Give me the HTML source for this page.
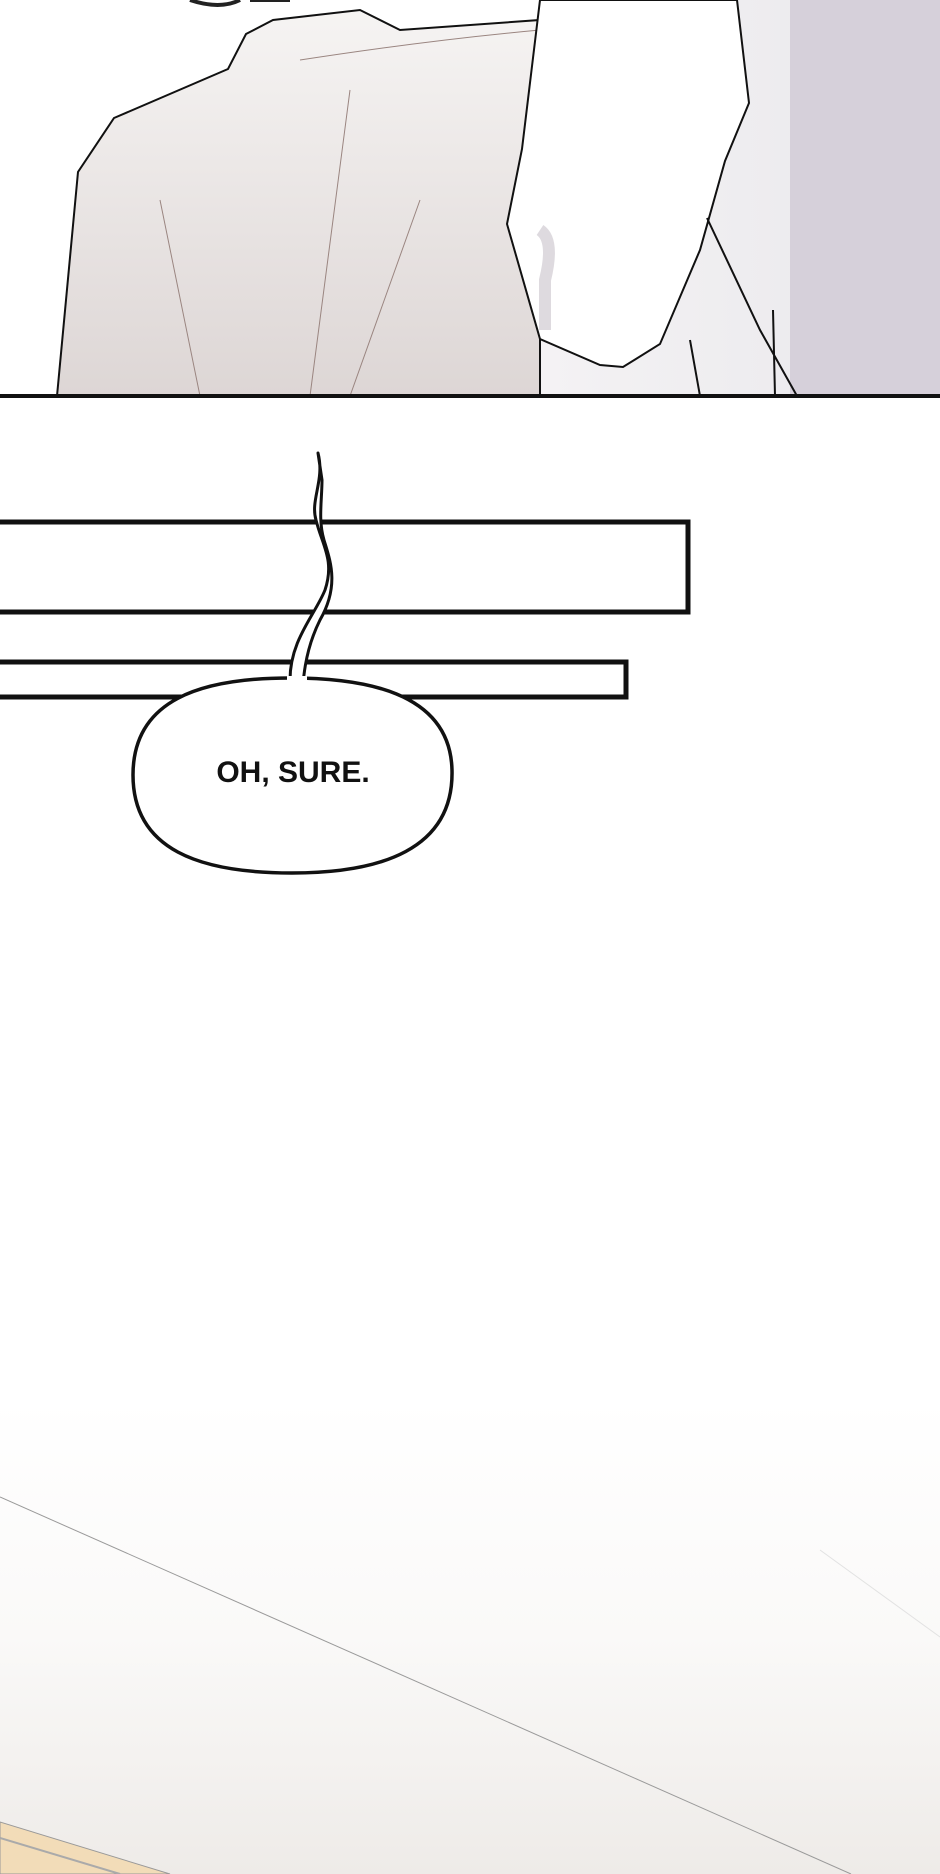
<!DOCTYPE html>
<html><head><style>
html,body{margin:0;padding:0;background:#fff;}
body{width:940px;height:1874px;position:relative;overflow:hidden;}
svg{position:absolute;left:0;top:0;}
</style></head><body>
<svg width="940" height="1874" viewBox="0 0 940 1874" xmlns="http://www.w3.org/2000/svg">
<defs>
<linearGradient id="bg" x1="0" y1="0" x2="1" y2="0">
<stop offset="0" stop-color="#f4f2f4"/><stop offset="0.7" stop-color="#ecebee"/><stop offset="1" stop-color="#d3cdd6"/>
</linearGradient>
<linearGradient id="shirt" x1="0" y1="0" x2="0" y2="1">
<stop offset="0" stop-color="#f6f4f3"/><stop offset="1" stop-color="#ddd6d5"/>
</linearGradient>
<linearGradient id="floor" x1="0" y1="0" x2="0" y2="1">
<stop offset="0" stop-color="#ffffff"/><stop offset="0.5" stop-color="#faf9f8"/><stop offset="1" stop-color="#eeebe8"/>
</linearGradient>
</defs>
<rect x="0" y="0" width="940" height="396" fill="#fff"/>
<rect x="540" y="0" width="400" height="396" fill="url(#bg)"/>
<rect x="790" y="0" width="150" height="396" fill="#d6d0da"/>
<path d="M57,396 L78,172 L114,118 L228,69 L246,34 L273,20 L360,10 L400,30 L540,20 L540,396 Z" fill="url(#shirt)" stroke="#111" stroke-width="2"/>
<path d="M160,200 L200,396 M350,90 L310,396 M420,200 L350,396" stroke="#9a8580" stroke-width="1" fill="none"/>
<path d="M300,60 Q430,40 540,30" stroke="#9a8580" stroke-width="1" fill="none"/>
<path d="M190,0 Q220,10 240,0 M250,0 L290,0" stroke="#222" stroke-width="4" fill="none"/>
<path d="M540,0 L522,149 L507,224 L540,339 L600,365 L623,367 L660,344 L700,250 L725,161 L749,103 L737,0 Z" fill="#ffffff" stroke="#111" stroke-width="2"/>
<path d="M540,230 Q555,240 545,280 L545,330" stroke="#bdb6c0" stroke-width="12" fill="none" opacity="0.5"/>
<path d="M707,218 L760,330 L797,396 M773,310 L775,396 M690,340 L700,396" stroke="#111" stroke-width="2" fill="none"/>
<rect x="0" y="394" width="940" height="4" fill="#111"/>
<rect x="0" y="1400" width="940" height="474" fill="url(#floor)"/>
<path d="M0,1497 L851,1874" stroke="#9a9a9a" stroke-width="1" fill="none"/>
<path d="M820,1550 L940,1637" stroke="#e2e2e2" stroke-width="1" fill="none"/>
<path d="M0,1822 L0,1874 L170,1874 Z" fill="#f2dcb8" stroke="#999" stroke-width="1"/>
<path d="M0,1838 L120,1874" stroke="#aaa" stroke-width="2"/>
<rect x="-5" y="522" width="693" height="90" fill="#fff" stroke="#111" stroke-width="5"/>
<rect x="-5" y="662" width="631" height="35" fill="#fff" stroke="#111" stroke-width="5"/>
<path d="M318,453 C325,480 310,500 316,520 C322,545 335,560 325,590 C315,615 290,640 290,680 L288,712 L302,712 C302,680 305,650 320,620 C340,585 330,560 324,540 C318,520 322,500 322,480 Z" fill="#fff" stroke="#111" stroke-width="3" stroke-linejoin="round"/>
<path d="M290,678 C360,678 450,690 452,770 C454,850 380,873 292,873 C200,873 133,850 133,775 C133,700 200,678 290,678 Z" fill="#fff" stroke="#111" stroke-width="3.5"/>
<rect x="287" y="676" width="20" height="8" fill="#fff"/>
<text x="293" y="782" text-anchor="middle" font-family="Liberation Sans, sans-serif" font-weight="bold" font-size="30" fill="#111">OH, SURE.</text>
</svg>
</body></html>
